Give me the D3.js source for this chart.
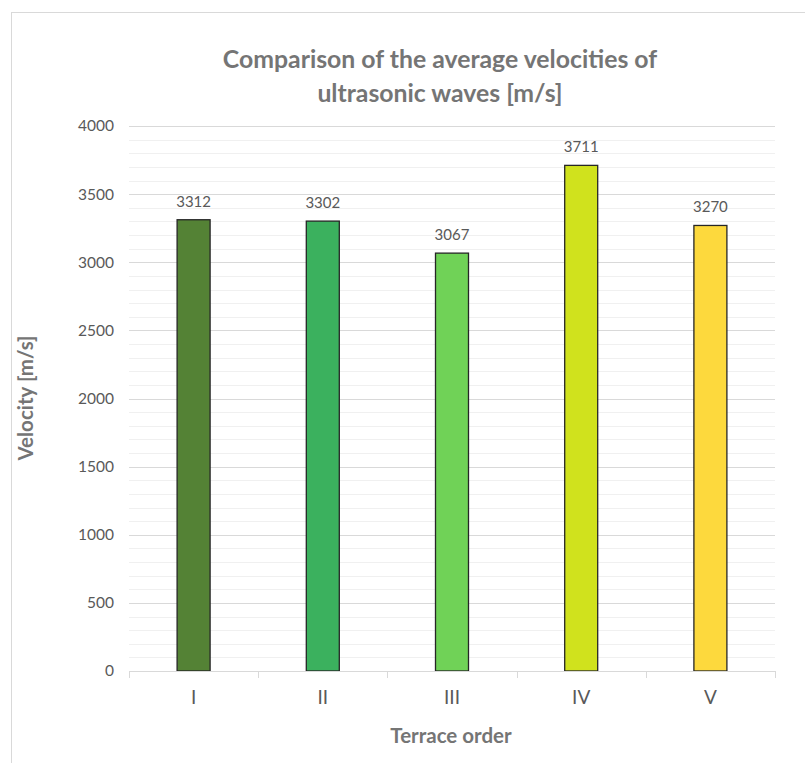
<!DOCTYPE html>
<html>
<head>
<meta charset="utf-8">
<script src="https://cdn.jsdelivr.net/npm/d3@7"></script>
<style>
  html, body { margin: 0; padding: 0; background: #ffffff; }
  svg { display: block; }
</style>
</head>
<body>
<svg id="chart" width="805" height="763"></svg>
<script>
// Terrace orders and mean ultrasonic wave velocities [m/s]
const categories = ["I", "II", "III", "IV", "V"];
const velocities = [3312, 3302, 3067, 3711, 3270];
const barColors = ["#548235", "#3bb15e", "#70d257", "#d0e21d", "#fdd93d"];
const majorTicks = [0, 500, 1000, 1500, 2000, 2500, 3000, 3500, 4000];
const minorTicks = d3.range(0, 4001, 100);

const titleLines = ["Comparison of the average velocities of", "ultrasonic waves [m/s]"];
const xTitle = "Terrace order";
const yTitle = "Velocity [m/s]";

const font = "Lato, 'Open Sans', sans-serif";
const svg = d3.select("#chart");

// chart frame
svg.append("rect")
  .attr("x", 11.5).attr("y", 12.5)
  .attr("width", 805).attr("height", 765)
  .attr("fill", "#ffffff").attr("stroke", "#d9d9d9").attr("stroke-width", 1);

const plot = { left: 129, right: 775, top: 126, bottom: 671 };

const x = d3.scaleBand()
  .domain(categories)
  .range([plot.left, plot.right])
  .paddingInner(0).paddingOuter(0);

const y = d3.scaleLinear()
  .domain([0, 4000])
  .range([plot.bottom, plot.top]);

// minor gridlines
svg.append("g")
  .selectAll("line")
  .data(minorTicks.filter(v => v % 500 !== 0))
  .join("line")
  .attr("x1", plot.left).attr("x2", plot.right)
  .attr("y1", d => Math.round(y(d)) + 0.5).attr("y2", d => Math.round(y(d)) + 0.5)
  .attr("stroke", "#f0f0f0").attr("stroke-width", 1);

// major gridlines
svg.append("g")
  .selectAll("line")
  .data(majorTicks.filter(v => v > 0))
  .join("line")
  .attr("x1", plot.left).attr("x2", plot.right)
  .attr("y1", d => Math.round(y(d)) + 0.5).attr("y2", d => Math.round(y(d)) + 0.5)
  .attr("stroke", "#d9d9d9").attr("stroke-width", 1);

// y axis labels
const yAxis = d3.axisLeft(y).tickValues(majorTicks).tickFormat(d3.format("d")).tickSize(0).tickPadding(0);
const yg = svg.append("g").attr("transform", `translate(${plot.left - 15},0)`).call(yAxis);
yg.select(".domain").remove();
yg.selectAll("text")
  .attr("font-family", font).attr("font-size", 15.5).attr("fill", "#595959");

// bars
svg.append("g")
  .selectAll("rect")
  .data(categories)
  .join("rect")
  .attr("x", d => x(d) + x.bandwidth() / 2 - 16.5)
  .attr("width", 33)
  .attr("y", (d, i) => y(velocities[i]))
  .attr("height", (d, i) => y(0) - y(velocities[i]))
  .attr("fill", (d, i) => barColors[i])
  .attr("stroke", "#262626").attr("stroke-width", 1.3);

// value labels
svg.append("g")
  .selectAll("text")
  .data(categories)
  .join("text")
  .attr("x", d => x(d) + x.bandwidth() / 2)
  .attr("y", (d, i) => y(velocities[i]) - 13)
  .attr("text-anchor", "middle")
  .attr("font-family", font).attr("font-size", 15).attr("fill", "#595959")
  .text((d, i) => velocities[i]);

// x axis
const xAxis = d3.axisBottom(x).tickSize(0).tickPadding(0);
const xg = svg.append("g").attr("transform", `translate(0,${plot.bottom})`).call(xAxis);
xg.select(".domain").attr("stroke", "#d9d9d9").attr("d", `M${plot.left},0.5H${plot.right}`);
xg.selectAll(".tick text")
  .attr("y", 20).attr("dy", "0.71em")
  .attr("font-family", font).attr("font-size", 19).attr("fill", "#595959");
// category boundary ticks
xg.append("g")
  .selectAll("line")
  .data(d3.range(categories.length + 1))
  .join("line")
  .attr("x1", i => Math.round(plot.left + i * x.step()) + 0.5)
  .attr("x2", i => Math.round(plot.left + i * x.step()) + 0.5)
  .attr("y1", 0).attr("y2", 7)
  .attr("stroke", "#d9d9d9");

// title
svg.append("text")
  .attr("x", 440).attr("y", 68)
  .attr("text-anchor", "middle")
  .attr("font-family", font).attr("font-weight", "bold")
  .attr("font-size", 24.8).attr("fill", "#757575")
  .selectAll("tspan")
  .data(titleLines)
  .join("tspan")
  .attr("x", 440).attr("dy", (d, i) => i === 0 ? 0 : 34)
  .text(d => d);

// axis titles
svg.append("text")
  .attr("x", 451).attr("y", 743)
  .attr("text-anchor", "middle")
  .attr("font-family", font).attr("font-weight", "bold")
  .attr("font-size", 20.5).attr("fill", "#757575")
  .text(xTitle);

svg.append("text")
  .attr("transform", "translate(33,398) rotate(-90)")
  .attr("text-anchor", "middle")
  .attr("font-family", font).attr("font-weight", "bold")
  .attr("font-size", 20.5).attr("fill", "#757575")
  .text(yTitle);
</script>
</body>
</html>
